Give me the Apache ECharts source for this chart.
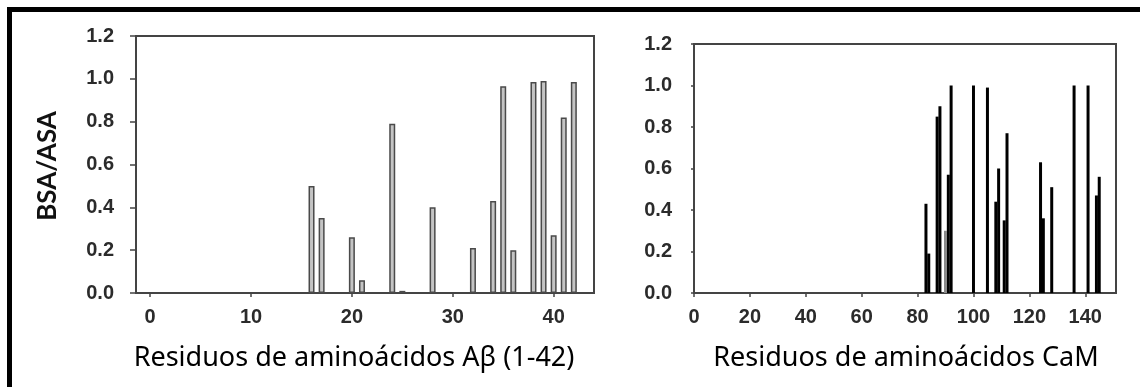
<!DOCTYPE html>
<html>
<head>
<meta charset="utf-8">
<script src="https://cdn.jsdelivr.net/npm/echarts@6/dist/echarts.min.js"></script>
<style>
  html, body { margin: 0; padding: 0; background: #fff; }
  #main { width: 1140px; height: 387px; }
</style>
</head>
<body>
<div id="main"></div>
<script>
// Aβ (1-42) residues and their BSA/ASA
var abResidues = [16, 17, 20, 21, 24, 25, 28, 32, 34, 35, 36, 38, 39, 40, 41, 42];
var abValues   = [0.50, 0.35, 0.26, 0.06, 0.79, 0.01, 0.40, 0.21, 0.43, 0.965, 0.20, 0.985, 0.99, 0.27, 0.82, 0.985];

// CaM residues (black bars)
var camResidues = [83, 84, 87, 88, 91, 92, 100, 105, 108, 109, 111, 112, 124, 125, 128, 136, 141, 144, 145];
var camValues   = [0.43, 0.19, 0.85, 0.90, 0.57, 1.0, 1.0, 0.99, 0.44, 0.60, 0.35, 0.77, 0.63, 0.36, 0.51, 1.0, 1.0, 0.47, 0.56];
// CaM residue drawn in grey
var camGreyResidues = [90];
var camGreyValues   = [0.30];

var abTicks  = [0, 10, 20, 30, 40];
var camTicks = [0, 20, 40, 60, 80, 100, 120, 140];
var yTicks   = [0, 0.2, 0.4, 0.6, 0.8, 1.0, 1.2];

function pairs(xs, ys) {
    return xs.map(function (x, i) { return [x, ys[i]]; });
}

var tickFont = { fontFamily: 'Liberation Sans', fontWeight: 'bold', fontSize: 20, color: '#2b2b2b' };
var axisLineStyle = { color: '#444', width: 2 };
var fmt = function (v) { return v.toFixed(1); };

var myChart = echarts.init(document.getElementById('main'));
myChart.setOption({
    animation: false,
    grid: [
        { left: 136, top: 36, width: 458, height: 257, show: true, borderColor: '#444', borderWidth: 2 },
        { left: 694, top: 44, width: 422, height: 249, show: true, borderColor: '#444', borderWidth: 2 }
    ],
    xAxis: [
        {
            gridIndex: 0, type: 'value', min: -1.4, max: 44,
            splitLine: { show: false },
            axisLine: { onZero: false, lineStyle: axisLineStyle },
            axisTick: { show: true, length: 4, customValues: abTicks, lineStyle: { color: '#444', width: 1.5 } },
            axisLabel: Object.assign({ margin: 14, customValues: abTicks }, tickFont)
        },
        {
            gridIndex: 1, type: 'value', min: 0, max: 151,
            splitLine: { show: false },
            axisLine: { onZero: false, lineStyle: axisLineStyle },
            axisTick: { show: true, length: 4, customValues: camTicks, lineStyle: { color: '#444', width: 1.5 } },
            axisLabel: Object.assign({ margin: 14, customValues: camTicks }, tickFont)
        }
    ],
    yAxis: [
        {
            gridIndex: 0, type: 'value', min: 0, max: 1.2,
            splitLine: { show: false },
            axisLine: { show: true, onZero: false, lineStyle: axisLineStyle },
            axisTick: { show: true, length: 6, customValues: yTicks, lineStyle: { color: '#444', width: 1.5 } },
            axisLabel: Object.assign({ margin: 22, customValues: yTicks, formatter: fmt }, tickFont)
        },
        {
            gridIndex: 1, type: 'value', min: 0, max: 1.2,
            splitLine: { show: false },
            axisLine: { show: true, onZero: false, lineStyle: axisLineStyle },
            axisTick: { show: true, length: 3, customValues: yTicks, lineStyle: { color: '#444', width: 1.5 } },
            axisLabel: Object.assign({ margin: 22, customValues: yTicks, formatter: fmt }, tickFont)
        }
    ],
    series: [
        {
            type: 'bar', xAxisIndex: 0, yAxisIndex: 0,
            barWidth: 6,
            itemStyle: { color: '#c4c4c4', borderColor: '#4a4a4a', borderWidth: 1.5 },
            data: pairs(abResidues, abValues)
        },
        {
            type: 'bar', xAxisIndex: 1, yAxisIndex: 1,
            barWidth: 3, barGap: '-100%',
            itemStyle: { color: '#000' },
            data: pairs(camResidues, camValues)
        },
        {
            type: 'bar', xAxisIndex: 1, yAxisIndex: 1,
            barWidth: 3, barGap: '-100%',
            itemStyle: { color: '#8a8a8a' },
            data: pairs(camGreyResidues, camGreyValues)
        }
    ],
    graphic: [
        // outer frame
        { type: 'rect', shape: { x: 9.5, y: 9.5, width: 1200, height: 500 }, style: { fill: null, stroke: '#000', lineWidth: 5 }, silent: true },
        {
            type: 'text', x: 48, y: 166, rotation: Math.PI / 2,
            style: { text: 'BSA/ASA', font: 'bold 26px Lato', fill: '#111', textAlign: 'center', textVerticalAlign: 'middle' }
        },
        {
            type: 'text', x: 354, y: 358,
            style: { text: 'Residuos de aminoácidos Aβ (1-42)', font: '27px "Noto Sans"', fill: '#000', textAlign: 'center', textVerticalAlign: 'middle' }
        },
        {
            type: 'text', x: 906, y: 358,
            style: { text: 'Residuos de aminoácidos CaM', font: '27px "Noto Sans"', fill: '#000', textAlign: 'center', textVerticalAlign: 'middle' }
        }
    ]
});
</script>
</body>
</html>
